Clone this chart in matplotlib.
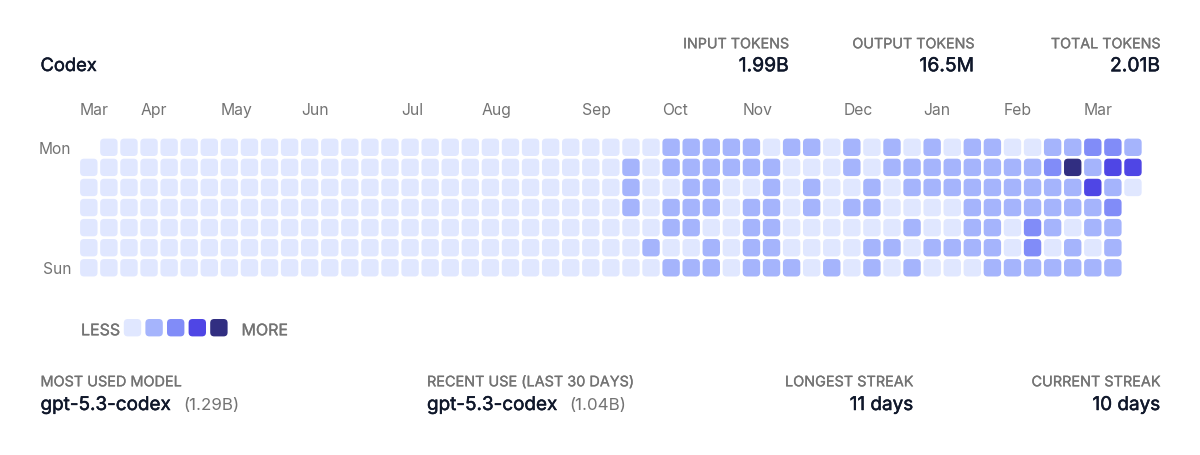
import matplotlib
matplotlib.use('Agg')
import matplotlib.pyplot as plt
import matplotlib.patheffects as pe
from matplotlib.patches import FancyBboxPatch

plt.rcParams['font.family'] = ['Inter', 'DejaVu Sans']

# level per week column, None = no cell drawn
mon = [None, 0, 0, 0, 0, 0, 0, 0, 0, 0, 0, 0, 0, 0, 0, 0, 0, 0, 0, 0, 0, 0, 0, 0, 0, 0, 0,
       0, 0, 1, 1, 1, 1, 1, 0, 1, 1, 0, 1, 0, 1, 0, 1, 0, 1, 1, 0, 0, 1, 1, 2, 2, 1]
tue = [0, 0, 0, 0, 0, 0, 0, 0, 0, 0, 0, 0, 0, 0, 0, 0, 0, 0, 0, 0, 0, 0, 0, 0, 0, 0, 0,
       1, 0, 1, 1, 1, 1, 1, 1, 0, 0, 0, 1, 0, 1, 1, 1, 1, 1, 1, 1, 1, 2, 4, 1, 3, 3]
wed = [0, 0, 0, 0, 0, 0, 0, 0, 0, 0, 0, 0, 0, 0, 0, 0, 0, 0, 0, 0, 0, 0, 0, 0, 0, 0, 0,
       1, 0, 0, 1, 1, 0, 0, 1, 0, 1, 0, 0, 1, 0, 1, 1, 1, 1, 1, 1, 1, 1, 1, 3, 1, 0]
thu = [0, 0, 0, 0, 0, 0, 0, 0, 0, 0, 0, 0, 0, 0, 0, 0, 0, 0, 0, 0, 0, 0, 0, 0, 0, 0, 0,
       1, 0, 1, 1, 1, 0, 1, 1, 0, 1, 0, 1, 1, 0, 0, 0, 0, 1, 1, 1, 1, 1, 1, 1, 2, None]
fri = [0, 0, 0, 0, 0, 0, 0, 0, 0, 0, 0, 0, 0, 0, 0, 0, 0, 0, 0, 0, 0, 0, 0, 0, 0, 0, 0,
       0, 0, 1, 1, 0, 0, 1, 1, 0, 0, 0, 0, 0, 0, 1, 0, 0, 1, 1, 0, 2, 1, 0, 1, 1, None]
sat = [0, 0, 0, 0, 0, 0, 0, 0, 0, 0, 0, 0, 0, 0, 0, 0, 0, 0, 0, 0, 0, 0, 0, 0, 0, 0, 0,
       0, 1, 0, 0, 1, 0, 1, 1, 0, 0, 0, 0, 1, 1, 0, 1, 1, 1, 1, 0, 2, 0, 1, 0, 1, None]
sun = [0, 0, 0, 0, 0, 0, 0, 0, 0, 0, 0, 0, 0, 0, 0, 0, 0, 0, 0, 0, 0, 0, 0, 0, 0, 0, 0,
       0, 0, 1, 1, 1, 0, 1, 1, 1, 0, 1, 0, 1, 0, 1, 0, 0, 0, 1, 1, 1, 1, 1, 1, 1, None]
weekdays = [mon, tue, wed, thu, fri, sat, sun]

month_names = ['Mar', 'Apr', 'May', 'Jun', 'Jul', 'Aug', 'Sep', 'Oct', 'Nov', 'Dec', 'Jan', 'Feb', 'Mar']
month_cols = [0, 3, 7, 11, 16, 20, 25, 29, 33, 38, 42, 46, 50]

level_colors = ['#e0e7ff', '#a5b4fc', '#818cf8', '#4f46e5', '#312e81']

header_labels = ['INPUT TOKENS', 'OUTPUT TOKENS', 'TOTAL TOKENS']
header_values = ['1.99B', '16.5M', '2.01B']
header_right = [788.5, 974, 1160]

DARK = '#0f172a'
GREY = '#737373'

CELL = 17.4
PITCH = 20.08
GRID_X = 80.1
GRID_Y = 139.6


def draw_cell(ax, x, y, color):
    radius = 4
    ax.add_patch(FancyBboxPatch((x + radius, y + radius), CELL - 2 * radius, CELL - 2 * radius,
                                boxstyle=f'round,pad={radius},rounding_size={radius}',
                                facecolor=color, edgecolor='none'))


# Inter only comes in one weight here, so thicken the medium text with a thin stroke
def medium(ax, x, y, text, size, color, ha='left', stroke=0.35):
    t = ax.text(x, y, text, fontsize=size, color=color, ha=ha, va='baseline')
    t.set_path_effects([pe.withStroke(linewidth=stroke, foreground=color)])


def main():
    fig = plt.figure(figsize=(12, 4.56), dpi=100)
    ax = fig.add_axes([0, 0, 1, 1])
    ax.set_xlim(0, 1200)
    ax.set_ylim(456, 0)
    ax.axis('off')

    # heatmap
    for row, levels in enumerate(weekdays):
        for col, level in enumerate(levels):
            if level is None:
                continue
            draw_cell(ax, GRID_X + col * PITCH, GRID_Y + row * PITCH, level_colors[level])

    # month and day labels
    for name, col in zip(month_names, month_cols):
        ax.text(GRID_X + col * PITCH, 115, name, fontsize=11.3, color=GREY, va='baseline')
    ax.text(71, 154, 'Mon', fontsize=11.2, color=GREY, ha='right', va='baseline')
    ax.text(71, 274, 'Sun', fontsize=11.2, color=GREY, ha='right', va='baseline')

    # title and totals
    medium(ax, 40.5, 72, 'Codex', 13.2, DARK)
    for label, value, right in zip(header_labels, header_values, header_right):
        medium(ax, right, 49.3, label, 10.3, GREY, ha='right', stroke=0.2)
        medium(ax, right, 72.3, value, 13.9, DARK, ha='right')

    # legend
    medium(ax, 81, 336.3, 'LESS', 11.5, GREY, stroke=0.2)
    for i, color in enumerate(level_colors):
        draw_cell(ax, 123.8 + i * 21.6, 320, color)
    medium(ax, 241.5, 336.3, 'MORE', 11.5, GREY, stroke=0.2)

    # footer
    medium(ax, 40.5, 387.3, 'MOST USED MODEL', 10.4, GREY, stroke=0.2)
    medium(ax, 40.5, 411, 'gpt-5.3-codex', 13.6, DARK)
    ax.text(183, 410, '(1.29B)', fontsize=12.2, color=GREY, va='baseline')

    medium(ax, 427, 387.3, 'RECENT USE (LAST 30 DAYS)', 10.4, GREY, stroke=0.2)
    medium(ax, 427, 411, 'gpt-5.3-codex', 13.6, DARK)
    ax.text(569, 410, '(1.04B)', fontsize=12.2, color=GREY, va='baseline')

    medium(ax, 913, 387.3, 'LONGEST STREAK', 10.4, GREY, ha='right', stroke=0.2)
    medium(ax, 913, 411, '11 days', 13.6, DARK, ha='right')
    medium(ax, 1160, 387.3, 'CURRENT STREAK', 10.4, GREY, ha='right', stroke=0.2)
    medium(ax, 1160, 411, '10 days', 13.6, DARK, ha='right')

    fig.savefig('out.png', dpi=100, facecolor='white')


if __name__ == '__main__':
    main()
